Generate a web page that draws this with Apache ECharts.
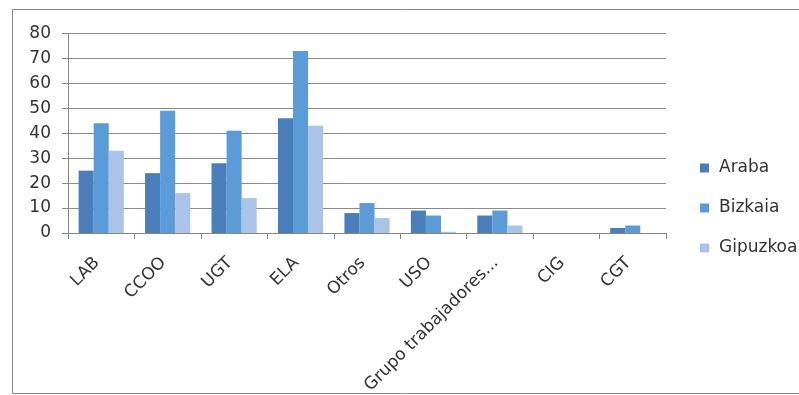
<!DOCTYPE html>
<html><head><meta charset="utf-8">
<script src="https://cdn.jsdelivr.net/npm/echarts@6/dist/echarts.min.js"></script>
<style>html,body{margin:0;padding:0;background:#fff}#c{width:799px;height:395px}</style>
</head><body><div id="c"></div>
<script>
var categories = ['LAB','CCOO','UGT','ELA','Otros','USO','Grupo trabajadores...','CIG','CGT'];
var araba    = [25, 24, 28, 46, 8, 9, 7, 0, 2];
var bizkaia  = [44, 49, 41, 73, 12, 7, 9, 0, 3];
var gipuzkoa = [33, 16, 14, 43, 6, 0.5, 3, 0, 0];
var yTicks = [0,10,20,30,40,50,60,70,80];

var font = 'DejaVu Sans';
var chart = echarts.init(document.getElementById('c'), null, {renderer:'canvas'});
chart.setOption({
  animation: false,
  textStyle: {fontFamily: font},
  graphic: [{type:'rect', shape:{x:12.5, y:9.5, width:800, height:384}, style:{fill:'none', stroke:'#8a8a8a', lineWidth:1}, silent:true}],
  grid: {left: 68, right: 133, top: 33.5, bottom: 162, containLabel: false, outerBoundsMode: 'none'},
  legend: {
    orient: 'vertical', left: 700, top: 158, padding: 0, itemWidth: 9, itemHeight: 9, itemGap: 20,
    icon: 'rect',
    textStyle: {fontFamily: font, fontSize: 17, lineHeight: 20, color: '#333', padding: [0, 0, 0, 5]},
    data: ['Araba','Bizkaia','Gipuzkoa']
  },
  xAxis: {
    type: 'category', data: categories,
    axisLine: {lineStyle: {color: '#888'}},
    axisTick: {show: true, length: 6, lineStyle: {color: '#888'}},
    axisLabel: {rotate: 45, interval: 0, margin: 23, padding: [0, 6, 0, 0], fontSize: 17, color: '#333', fontFamily: font}
  },
  yAxis: {
    type: 'value', min: 0, max: 80, interval: 10,
    axisLine: {show: true, lineStyle: {color: '#888'}},
    axisTick: {show: true, length: 6, inside: false, lineStyle: {color: '#888'}},
    splitLine: {lineStyle: {color: '#8c8c8c'}},
    axisLabel: {fontSize: 17, color: '#333', margin: 17, fontFamily: font,
      formatter: function(v){ return yTicks.indexOf(v) >= 0 ? String(v) : ''; }}
  },
  series: [
    {name:'Araba', type:'bar', data: araba, barGap: '0%', barCategoryGap: '32%', itemStyle:{color:'#4a7ebb'}},
    {name:'Bizkaia', type:'bar', data: bizkaia, itemStyle:{color:'#5b9bd8'}},
    {name:'Gipuzkoa', type:'bar', data: gipuzkoa, itemStyle:{color:'#a9c4e6'}}
  ]
});
</script></body></html>
